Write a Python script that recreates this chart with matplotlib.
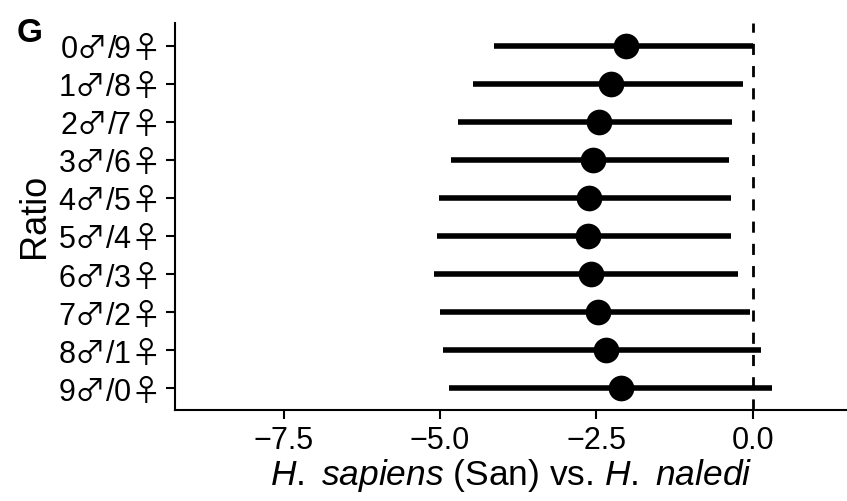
"""Forest plot, panel G: estimate and interval per male/female ratio."""
import matplotlib
matplotlib.use("Agg")
import matplotlib.pyplot as plt
import numpy as np

plt.rcParams["font.family"] = ["Liberation Sans", "DejaVu Sans"]
plt.rcParams["mathtext.fontset"] = "custom"
plt.rcParams["mathtext.rm"] = "Liberation Sans"
plt.rcParams["mathtext.it"] = "Liberation Sans:italic"
plt.rcParams["mathtext.sf"] = "Noto Sans CJK JP"   # wide thin ♂ / ♀ glyphs

# ── data ────────────────────────────────────────────────────────────────────
males    = [0, 1, 2, 3, 4, 5, 6, 7, 8, 9]
females  = [9, 8, 7, 6, 5, 4, 3, 2, 1, 0]
estimate = [-2.03, -2.26, -2.46, -2.55, -2.62, -2.64, -2.58, -2.48, -2.34, -2.10]
lower    = [-4.13, -4.47, -4.72, -4.83, -5.01, -5.05, -5.09, -5.00, -4.95, -4.85]
upper    = [ 0.00, -0.15, -0.33, -0.37, -0.35, -0.34, -0.24, -0.04,  0.14,  0.31]
xticks   = [-7.5, -5.0, -2.5, 0.0]

C_INK = "black"


def main():
    fig = plt.figure(figsize=(8.47, 5.01), dpi=100, facecolor="white")
    ax = fig.add_axes([0.2066, 0.1816, 0.7934, 0.7731])

    est = np.array(estimate)
    lo = np.array(lower)
    hi = np.array(upper)
    ypos = np.arange(len(males))
    labels = [f"{m}" + r"$\mathsf{♂}$" + f"/{f}" + r"$\mathsf{♀}$"
              for m, f in zip(males, females)]

    # reference line at zero
    ax.axvline(0, color=C_INK, linewidth=2.0, dashes=(4, 4), zorder=1)

    ax.errorbar(est, ypos, xerr=[est - lo, hi - est], fmt="o",
                color=C_INK, ecolor=C_INK, elinewidth=4.0, capsize=0,
                markersize=18.5, markeredgewidth=0, zorder=3)

    ax.set_xlim(-9.24, 1.51)
    ax.set_ylim(len(males) - 1 + 0.57, -0.6)
    ax.set_yticks(ypos)
    ax.set_yticklabels(labels)
    ax.set_xticks(xticks)
    ax.set_xticklabels([f"{t:.1f}".replace("-", "\u2212") for t in xticks])

    for side in ("top", "right"):
        ax.spines[side].set_visible(False)
    for side in ("left", "bottom"):
        ax.spines[side].set_linewidth(1.5)
        ax.spines[side].set_color(C_INK)

    ax.tick_params(axis="both", colors=C_INK, labelsize=22,
                   width=1.5, length=6.5)
    ax.tick_params(axis="y", pad=6)
    ax.tick_params(axis="x", pad=5)

    ax.set_ylabel("Ratio", fontsize=26, color=C_INK, labelpad=4)
    ax.set_xlabel(r"$\mathit{H.}$ $\mathit{sapiens}$ (San) vs. "
                  r"$\mathit{H.}$ $\mathit{naledi}$",
                  fontsize=25.5, color=C_INK, labelpad=1)

    fig.text(0.02, 0.965, "G", fontsize=24, fontweight="bold",
             color=C_INK, ha="left", va="top")

    fig.savefig("out.png", dpi=100, facecolor="white")
    plt.close(fig)


if __name__ == "__main__":
    main()
